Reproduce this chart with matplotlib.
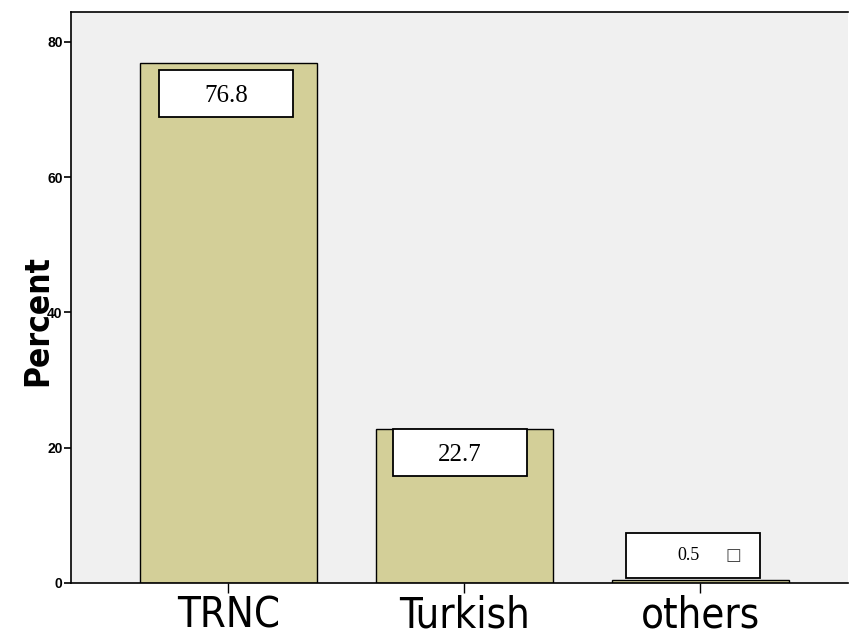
import matplotlib.pyplot as plt
from matplotlib.patches import Rectangle

categories = ['TRNC', 'Turkish', 'others']
percent = [76.8, 22.7, 0.5]
value_labels = ['76.8', '22.7', '0.5']

bar_color = '#D3CF98'
bg_color = '#F0F0F0'

fig = plt.figure(figsize=(8.49, 6.38), dpi=100)
ax = fig.add_axes([71 / 849, 55 / 638, 777 / 849, 571 / 638])
ax.set_facecolor(bg_color)

x = range(len(categories))
ax.bar(x, percent, width=0.75, color=bar_color, edgecolor='black', linewidth=1.0, zorder=2)

ax.set_xlim(-0.667, 2.625)
ax.set_ylim(0, 84.4)

# value boxes: fixed-size white boxes near the top of each bar
box_w = 0.568
box_h = [6.95, 6.95, 6.65]
box_top = [percent[0] - 1.0, percent[1], percent[2] + 6.9]
box_dx = [-0.01, -0.02, -0.03]
text_size = [18, 18, 13]
for i, v in enumerate(percent):
    cx = i + box_dx[i]
    ax.add_patch(Rectangle((cx - box_w / 2, box_top[i] - box_h[i]), box_w, box_h[i],
                           facecolor='white', edgecolor='black', linewidth=1.3, zorder=3))
    ty = box_top[i] - box_h[i] / 2
    if i == 2:
        ax.text(cx - 0.02, ty, value_labels[i], ha='center', va='center',
                fontsize=text_size[i], family='Liberation Serif', zorder=4)
        ax.text(cx + 0.17, ty, '\u25a1', ha='center', va='center',
                fontsize=12, family='DejaVu Sans', color='#444444', zorder=4)
    else:
        ax.text(cx, ty - 0.3, value_labels[i], ha='center', va='center',
                fontsize=text_size[i], family='Liberation Serif', zorder=4)

ax.set_xticks(list(x))
ax.set_xticklabels(categories, fontsize=30, family='DejaVu Sans', fontstretch='condensed')
ax.set_yticks([0, 20, 40, 60, 80])
ax.set_yticklabels(['0', '20', '40', '60', '80'], fontsize=10, fontweight='bold',
                   family='Liberation Sans')
ax.tick_params(axis='y', direction='out', length=5, width=1.2, pad=1)
ax.tick_params(axis='x', direction='out', length=7, width=1.0, pad=1)

ax.set_ylabel('Percent', fontsize=24, fontweight='heavy', family='DejaVu Sans',
              fontstretch='condensed', labelpad=0)
ax.yaxis.set_label_coords(-0.021, 0.46)

for s in ['left', 'top', 'bottom']:
    ax.spines[s].set_linewidth(1.2)
ax.spines['right'].set_visible(False)

fig.savefig('out.png', dpi=100)
